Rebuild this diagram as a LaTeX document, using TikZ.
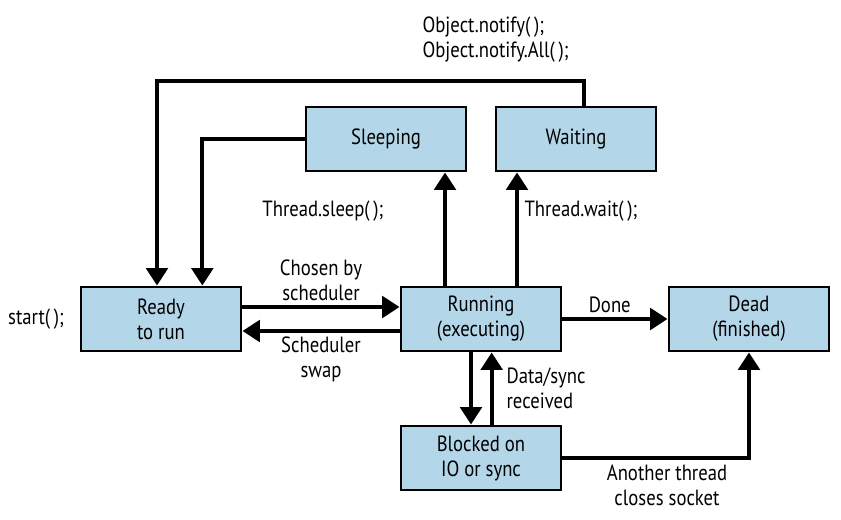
\documentclass[tikz,border=0pt]{standalone}
\usepackage{fontspec}
\setmainfont{PT Sans}[FakeStretch=0.85]
\usetikzlibrary{arrows.meta,positioning}
\definecolor{stateblue}{RGB}{180,214,233}
\tikzset{
	state/.style={draw, line width=2.2pt, fill=stateblue, minimum width=120pt, minimum height=48pt, align=center, inner sep=0pt},
	flow/.style={line width=3pt, -{Triangle[length=13pt,width=16pt]}},
	lbl/.style={align=center, inner sep=1pt},
	every node/.append style={font=\fontsize{16.5}{18.75}\selectfont}
}
\begin{document}
\begin{tikzpicture}[x=0.75pt,y=-0.75pt]
	\useasboundingbox (0,0) rectangle (841,520);
	% states
	\node[state] (ready) at (161,319) {Ready\\to run};
	\node[state] (running) at (481,319) {Running\\(executing)};
	\node[state] (dead) at (749,319) {Dead\\(finished)};
	\node[state] (sleeping) at (386,139) {Sleeping};
	\node[state] (waiting) at (576,139) {Waiting};
	\node[state] (blocked) at (481,458) {Blocked on\\IO or sync};
	\node[lbl] (start) at (36,319) {start(\,);};
	\coordinate (notifytop) at (0,81);
	% ready <-> running
	\draw[flow] ([yshift=9pt]ready.east) -- node[lbl, above=2pt] (chosen) {Chosen by\\scheduler} ([yshift=9pt]running.west);
	\draw[flow] ([yshift=-9pt]running.west) -- node[lbl, below=2pt] (swap) {Scheduler\\swap} ([yshift=-9pt]ready.east);
	% done
	\draw[flow] (running) -- node[lbl, above=2pt, pos=0.45] (done) {Done} (dead);
	% blocked
	\draw[flow] ([xshift=-7.5pt]running.south) -- ([xshift=-7.5pt]blocked.north);
	\draw[flow] ([xshift=8pt]blocked.north) -- ([xshift=8pt]running.south);
	\node[lbl, align=left, anchor=west] (received) at (505,388) {Data/sync\\received};
	\draw[flow] (blocked.east) -| (dead.south);
	\node[lbl] (closes) at (667,485) {Another thread\\closes socket};
	% sleep and wait
	\draw[flow] ([xshift=-27pt]running.north) -- ([xshift=-27pt]running.north |- sleeping.south);
	\draw[flow] ([xshift=27pt]running.north) -- ([xshift=27pt]running.north |- waiting.south);
	\node[lbl, anchor=east] (sleepcall) at (385,211) {Thread.sleep(\,);};
	\node[lbl, anchor=west] (waitcall) at (523,211) {Thread.wait(\,);};
	% back to ready
	\draw[flow] (sleeping.west) -| ([xshift=31pt]ready.north);
	\draw[flow] ([xshift=6pt]waiting.north) -- ([xshift=6pt]waiting.north |- notifytop) -| ([xshift=-3pt]ready.north);
	\node[lbl, align=left, anchor=west] (notify) at (421,40) {Object.notify(\,);\\Object.notify.All(\,);};
\end{tikzpicture}
\end{document}
